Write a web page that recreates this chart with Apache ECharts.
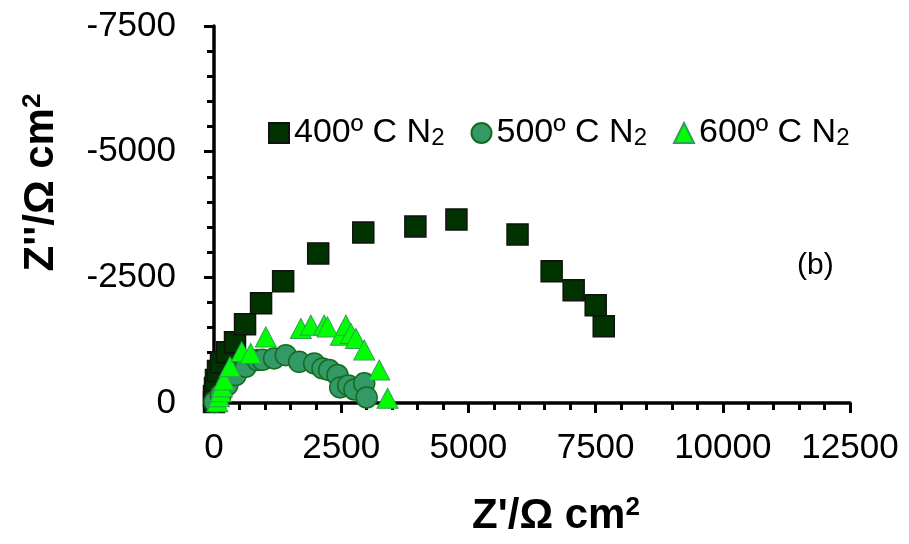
<!DOCTYPE html>
<html>
<head>
<meta charset="utf-8">
<script src="https://cdn.jsdelivr.net/npm/echarts@6/dist/echarts.min.js"></script>
<style>
  html, body { margin: 0; padding: 0; background: #fff; }
  #chart { width: 909px; height: 544px; }
</style>
</head>
<body>
<div id="chart"></div>
<script>
// Nyquist plot: real part Z' vs imaginary part Z'' (Ω cm²)
const seriesNames = ['400º C N2', '500º C N2', '600º C N2'];

const x400 = [0, 0, 20, 39, 79, 138, 256, 413, 610, 925, 1359, 2048, 2934, 3958, 4765, 5966, 6636, 7069, 7502, 7660];
const y400 = [-20, -139, -298, -456, -635, -813, -1012, -1210, -1567, -1984, -2420, -2976, -3393, -3512, -3651, -3353, -2619, -2242, -1944, -1528];

const x500 = [10, 132, 262, 427, 624, 852, 951, 1181, 1411, 1673, 1969, 2132, 2264, 2427, 2480, 2640, 2760, 2953, 3000];
const y500 = [-20, -159, -357, -556, -720, -853, -860, -887, -952, -819, -788, -688, -655, -556, -310, -350, -270, -391, -110];

const x600 = [65, 98, 132, 157, 197, 315, 545, 722, 1018, 1707, 1904, 2165, 2230, 2494, 2593, 2691, 2789, 2953, 3248, 3411];
const y600 = [-26, -125, -224, -323, -456, -720, -1018, -986, -1315, -1482, -1548, -1548, -1514, -1349, -1548, -1383, -1284, -1052, -655, -93];

const xTicks = { min: 0, max: 12500, interval: 2500 };
const yTicks = { min: -7500, max: 0, interval: 2500 };

const FONT = 'Liberation Sans, Arial, sans-serif';
const zip = (xs, ys) => xs.map((x, i) => [x, ys[i]]);

const chart = echarts.init(document.getElementById('chart'), null, { renderer: 'canvas' });

const titleRich = {
  a: { fontSize: 42, fontWeight: 'bold', fontFamily: FONT, color: '#000' },
  s: { fontSize: 26, fontWeight: 'bold', fontFamily: FONT, color: '#000', verticalAlign: 'top' }
};

const axisCommon = {
  type: 'value',
  splitLine: { show: false },
  axisLine: { show: true, onZero: false, lineStyle: { color: '#000', width: 3.5 } },
  axisTick: { show: true, inside: false, length: 10, lineStyle: { color: '#000', width: 3 } },
  minorTick: { show: true, splitNumber: 5, length: 7, lineStyle: { color: '#000', width: 3 } },
  axisLabel: { color: '#000', fontSize: 35, fontFamily: FONT, formatter: v => String(v) },
  nameLocation: 'middle'
};

chart.setOption({
  animation: false,
  backgroundColor: '#fff',
  grid: { left: 214, right: 59, top: 26, bottom: 141, containLabel: false },
  xAxis: Object.assign({}, axisCommon, {
    min: xTicks.min, max: xTicks.max, interval: xTicks.interval,
    axisLabel: Object.assign({}, axisCommon.axisLabel, { margin: 28 }),
    name: "{a|Z'/Ω cm}{s|2}",
    nameGap: 92,
    nameTextStyle: { fontFamily: FONT, fontWeight: 'bold', fontSize: 42, color: '#000', padding: [0, 0, 0, 48], rich: titleRich }
  }),
  yAxis: Object.assign({}, axisCommon, {
    min: yTicks.min, max: yTicks.max, interval: yTicks.interval,
    inverse: true,
    axisLabel: Object.assign({}, axisCommon.axisLabel, { margin: 38 }),
    name: "{a|Z''/Ω cm}{s|2}",
    nameRotate: 90,
    nameGap: 152,
    nameTextStyle: { fontFamily: FONT, fontWeight: 'bold', fontSize: 42, color: '#000', padding: [0, 0, 0, 64], rich: titleRich }
  }),
  legend: {
    left: 263, top: 111,
    itemWidth: 20, itemHeight: 20, itemGap: 26,
    data: [
      { name: seriesNames[0], icon: 'rect' },
      { name: seriesNames[1], icon: 'circle' },
      { name: seriesNames[2], icon: 'triangle' }
    ],
    formatter: name => '{t|' + name.slice(0, -1) + '}{b|' + name.slice(-1) + '}',
    textStyle: {
      color: '#000', fontFamily: FONT, fontSize: 34,
      rich: {
        t: { fontSize: 34, fontFamily: FONT, color: '#000' },
        b: { fontSize: 24, fontFamily: FONT, color: '#000', verticalAlign: 'bottom' }
      }
    }
  },
  graphic: [{
    type: 'text', left: 797, top: 251,
    style: { text: '(b)', font: '30px "Liberation Sans", Arial, sans-serif', fill: '#000' }
  }],
  series: [
    {
      name: seriesNames[0], type: 'scatter', symbol: 'rect', symbolSize: 21,
      itemStyle: { color: '#003300', borderColor: '#111', borderWidth: 1.5, opacity: 1 },
      data: zip(x400, y400), z: 2
    },
    {
      name: seriesNames[1], type: 'scatter', symbol: 'circle', symbolSize: 21,
      itemStyle: { color: '#339966', borderColor: '#156c1f', borderWidth: 1.5, opacity: 1 },
      data: zip(x500, y500), z: 3
    },
    {
      name: seriesNames[2], type: 'scatter', symbol: 'triangle', symbolSize: [21, 20],
      itemStyle: { color: '#00ff00', borderColor: '#2f9f55', borderWidth: 1, opacity: 1 },
      data: zip(x600, y600), z: 4
    }
  ]
});
</script>
</body>
</html>
